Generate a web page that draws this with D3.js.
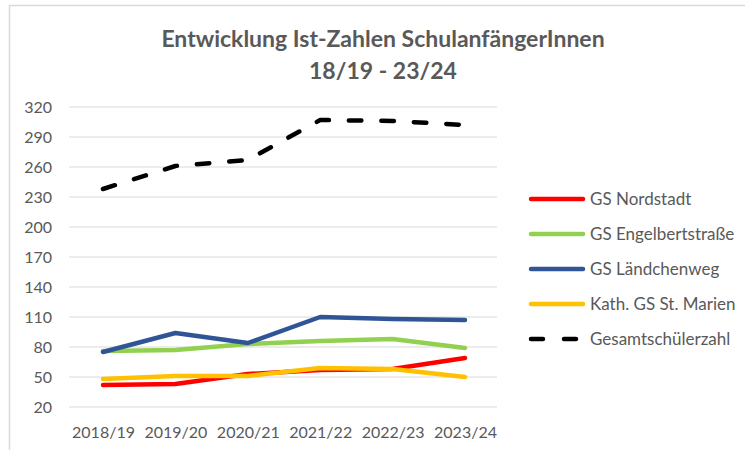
<!DOCTYPE html>
<html><head><meta charset="utf-8">
<script src="https://cdn.jsdelivr.net/npm/d3@7"></script>
<style>body{margin:0;background:#fff;} text{font-family:Lato,"Open Sans",sans-serif;}</style>
</head><body><svg id="c" width="745" height="450"></svg>
<script>
const categories = ["2018/19","2019/20","2020/21","2021/22","2022/23","2023/24"];
const nordstadt = [42,43,53,57,58,69];
const engelbert = [76,77,83,86,88,79];
const laendchen = [75,94,84,110,108,107];
const marien = [48,51,51,59,58,50];
const gesamt = [238,261,267,307,306,302];
const yTicks = [20,50,80,110,140,170,200,230,260,290,320];
const seriesNames = ["GS Nordstadt","GS Engelbertstraße","GS Ländchenweg","Kath. GS St. Marien","Gesamtschülerzahl"];
const seriesColors = ["#ff0000","#92d050","#2f5597","#ffc000","#000000"];
const seriesData = [nordstadt, engelbert, laendchen, marien, gesamt];

const svg = d3.select("#c");
svg.append("rect").attr("x",9.5).attr("y",5.5).attr("width",760).attr("height",470)
  .attr("fill","none").attr("stroke","#d9d9d9").attr("stroke-width",1.5);

const x = d3.scalePoint().domain(categories).range([103,465]);
const y = d3.scaleLinear().domain([20,320]).range([407,107]);

svg.append("g").selectAll("line").data(yTicks).join("line")
  .attr("x1",69).attr("x2",497).attr("y1",d=>y(d)).attr("y2",d=>y(d))
  .attr("stroke","#d9d9d9").attr("stroke-width",1);

const yAxis = d3.axisLeft(y).tickValues(yTicks).tickSize(0).tickPadding(0);
const gy = svg.append("g").attr("transform","translate(52,0)").call(yAxis);
gy.select(".domain").remove();
gy.selectAll("text").attr("fill","#595959").style("font-size","16px").style("font-family","Lato,'Open Sans',sans-serif");

const xAxis = d3.axisBottom(x).tickSize(0).tickPadding(0);
const gx = svg.append("g").attr("transform","translate(0,427)").call(xAxis);
gx.select(".domain").remove();
gx.selectAll("text").attr("fill","#595959").style("font-size","16px").style("font-family","Lato,'Open Sans',sans-serif");

const line = d3.line().x((d,i)=>x(categories[i])).y(d=>y(d));
seriesData.forEach((s,k)=>{
  const p = svg.append("path").datum(s).attr("d",line).attr("fill","none")
    .attr("stroke",seriesColors[k]).attr("stroke-width",4.5)
    .attr("stroke-linejoin","round").attr("stroke-linecap","round");
  if(k===4) p.attr("stroke-dasharray","12.5,20");
});

svg.append("text").attr("x",383).attr("y",47).attr("text-anchor","middle")
  .attr("fill","#595959").style("font-size","23px").style("font-weight","bold")
  .text("Entwicklung Ist-Zahlen SchulanfängerInnen");
svg.append("text").attr("x",383).attr("y",79).attr("text-anchor","middle")
  .attr("fill","#595959").style("font-size","23px").style("font-weight","bold")
  .text("18/19 - 23/24");

const lg = svg.append("g");
seriesNames.forEach((n,k)=>{
  const ly = 199 + k*35;
  const l = lg.append("line").attr("x1",531).attr("x2",583).attr("y1",ly).attr("y2",ly)
    .attr("stroke",seriesColors[k]).attr("stroke-width",4.5).attr("stroke-linecap","round");
  if(k===4) l.attr("stroke-dasharray","12,21");
  lg.append("text").attr("x",590).attr("y",ly+6).attr("fill","#595959")
    .style("font-size","17px").text(n);
});
</script></body></html>
